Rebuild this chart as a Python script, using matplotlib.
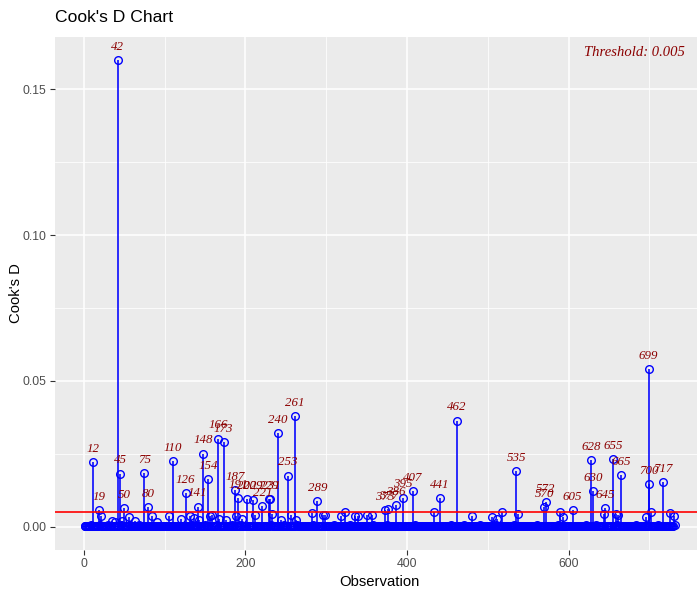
import matplotlib
matplotlib.use("Agg")
import matplotlib.pyplot as plt
import numpy as np

# ---------------- data ----------------
threshold = 0.005

# baseline Cook's D for every observation, in units of 1e-4
baseline_d_1e4 = [
    3,2,1,4,2,1,3,2,5,1,2,3,1,2,4,3,1,2,3,6,2,1,3,2,4,
    1,2,3,1,5,2,1,3,2,4,1,2,3,2,1,4,2,3,1,2,5,3,1,2,3,
    2,1,4,3,1,2,5,2,1,3,2,1,4,2,3,1,2,3,7,2,1,3,2,4,1,
    3,2,1,2,4,1,3,2,1,5,2,3,1,2,4,2,1,3,2,1,3,4,2,1,2,
    1,3,2,4,1,2,3,1,2,6,3,1,2,4,2,1,3,2,1,2,4,3,1,2,3,
    2,4,1,3,2,1,2,5,3,1,2,3,1,4,2,1,3,2,4,1,2,3,2,1,5,
    3,1,2,4,2,1,3,2,1,4,3,2,1,2,5,1,3,2,4,1,2,3,1,2,4,
    1,2,3,2,4,1,2,5,3,1,2,1,3,4,2,1,2,3,1,6,2,3,1,2,4,
    2,3,1,4,2,1,3,2,5,1,2,3,4,1,2,3,1,2,4,2,1,3,2,1,3,
    4,1,2,3,1,2,5,2,1,3,2,4,1,2,3,1,4,2,1,3,2,1,5,2,3,
    1,2,4,3,1,2,3,1,2,4,2,1,3,5,2,1,2,3,1,4,2,3,1,2,1,
    3,2,1,4,2,3,1,2,5,1,3,2,1,2,4,3,1,2,3,1,2,4,1,3,2,
    2,1,3,2,4,1,2,3,1,5,2,1,3,2,4,1,2,3,2,1,3,4,2,1,2,
    1,3,2,5,1,2,4,2,1,3,2,1,4,3,1,2,3,1,2,4,2,3,1,2,3,
    2,4,1,2,3,1,2,5,3,1,2,4,1,3,2,1,2,3,4,1,2,1,3,2,5,
    3,1,2,3,1,4,2,1,3,2,5,1,2,3,1,2,4,2,1,3,2,1,4,3,1,
    2,3,1,2,4,1,3,2,1,5,2,3,1,2,4,1,2,3,2,1,3,2,4,1,2,
    1,2,3,4,1,2,3,1,5,2,1,3,2,4,1,2,3,2,1,4,3,1,2,3,1,
    3,2,1,2,5,1,3,2,4,1,2,3,1,2,4,2,1,3,2,1,5,2,3,1,2,
    2,1,4,3,1,2,3,2,1,4,2,1,3,2,5,1,2,3,1,4,2,3,1,2,3,
    1,3,2,1,4,2,3,1,2,5,3,1,2,4,1,2,3,2,1,3,4,1,2,3,2,
    4,2,1,3,2,1,5,2,3,1,2,4,1,3,2,1,2,3,4,1,2,3,1,2,1,
    2,1,3,2,4,1,2,3,1,2,5,3,1,2,4,2,1,3,2,1,3,2,4,1,2,
    3,2,1,4,2,3,1,2,1,3,2,5,1,2,3,4,1,2,3,1,2,4,2,1,3,
    1,2,3,1,5,2,1,3,4,2,1,2,3,1,2,4,3,1,2,3,1,5,2,3,1,
    2,4,1,2,3,1,2,3,5,1,2,4,1,3,2,1,2,3,1,4,2,1,3,2,4,
    3,1,2,4,1,3,2,1,2,5,3,1,2,3,1,4,2,1,3,2,4,1,2,3,1,
    1,2,3,2,4,1,2,5,1,3,2,1,3,4,2,1,3,2,1,2,4,3,1,2,3,
    2,3,1,4,2,1,3,2,1,5,2,3,1,2,4,1,2,3,2,1,3,4,2,1,2,
    3,1,2,4,2,6,
]

# observations with visibly larger Cook's D
spike_obs = [12, 19, 42, 45, 50, 75, 80, 110, 126, 141, 148, 154, 166, 173,
             187, 191, 202, 209, 221, 229, 231, 240, 253, 261, 289, 373, 377,
             386, 395, 407, 441, 462, 535, 570, 572, 605, 628, 630, 645, 655,
             665, 699, 700, 717]
spike_d = [0.0222, 0.0058, 0.1600, 0.0182, 0.0065, 0.0183, 0.0066, 0.0226,
           0.0116, 0.0069, 0.0251, 0.0164, 0.0302, 0.0290, 0.0126, 0.0098,
           0.0095, 0.0093, 0.0072, 0.0095, 0.0094, 0.0321, 0.0175, 0.0380,
           0.0088, 0.0058, 0.0061, 0.0074, 0.0100, 0.0123, 0.0098, 0.0364,
           0.0190, 0.0066, 0.0083, 0.0056, 0.0228, 0.0121, 0.0065, 0.0233,
           0.0176, 0.0541, 0.0147, 0.0153]

# moderate values below the threshold
mid_obs = [22, 35, 39, 47, 56, 63, 85, 91, 105, 120, 131, 136, 143, 156, 159,
           168, 176, 188, 196, 212, 233, 244, 256, 263, 283, 296, 299, 318,
           323, 336, 339, 351, 357, 434, 480, 505, 511, 518, 537, 589, 593,
           644, 659, 661, 696, 702, 725, 730]
mid_d = [0.0038, 0.0018, 0.0017, 0.0021, 0.0033, 0.0021, 0.0035, 0.0015,
         0.0035, 0.0028, 0.0035, 0.0030, 0.0024, 0.0038, 0.0040, 0.0026,
         0.0022, 0.0037, 0.0025, 0.0040, 0.0043, 0.0024, 0.0041, 0.0022,
         0.0047, 0.0041, 0.0041, 0.0038, 0.0049, 0.0038, 0.0038, 0.0040,
         0.0040, 0.0049, 0.0035, 0.0033, 0.0026, 0.0049, 0.0042, 0.0049,
         0.0033, 0.0042, 0.0044, 0.0040, 0.0033, 0.0049, 0.0048, 0.0038]

# ---------------- assemble ----------------
cooks_d = np.array(baseline_d_1e4, dtype=float) * 1e-4
for o, v in zip(mid_obs, mid_d):
    cooks_d[o - 1] = v
for o, v in zip(spike_obs, spike_d):
    cooks_d[o - 1] = v
n = len(cooks_d)
obs = np.arange(1, n + 1)

# ---------------- plot ----------------
W, H = 697, 591
fig = plt.figure(figsize=(W / 100, H / 100), dpi=100)
L, R, T, B = 55, 704, 37, 550
ax = fig.add_axes([L / W, (H - B) / H, (R - L) / W, (B - T) / H])
ax.set_facecolor("#EBEBEB")
for s in ax.spines.values():
    s.set_visible(False)

xr = n - 1
ax.set_xlim(1 - 0.05 * xr, n + 0.05 * xr)
ymax = cooks_d.max()
ax.set_ylim(-0.05 * ymax, ymax * 1.05)

ax.set_xticks([0, 200, 400, 600])
ax.set_xticks([100, 300, 500, 700], minor=True)
ax.set_yticks([0.0, 0.05, 0.10, 0.15])
ax.set_yticks([0.025, 0.075, 0.125], minor=True)
ax.set_yticklabels(["0.00", "0.05", "0.10", "0.15"])
ax.grid(which="major", color="white", lw=1.1)
ax.grid(which="minor", color="white", lw=0.55)
ax.set_axisbelow(True)
ax.tick_params(which="major", length=3.5, width=0.8, color="#333333",
               labelcolor="#4D4D4D", labelsize=8.8, pad=2.5)
ax.tick_params(which="minor", length=0)

fam = ["Liberation Sans", "DejaVu Sans"]
for lab in ax.get_xticklabels() + ax.get_yticklabels():
    lab.set_family(fam)

ax.vlines(obs, 0, cooks_d, color="blue", lw=1.15, zorder=3)
ax.plot(obs, cooks_d, "o", mfc="none", mec="blue", ms=5.5, mew=1.0, zorder=4)
ax.axhline(threshold, color="red", lw=1.2, zorder=5)

for o, v in zip(obs, cooks_d):
    if v > threshold:
        ax.annotate(str(o), (o, v), xytext=(0, 9.5), textcoords="offset points",
                    ha="center", va="center", color="#8B0000",
                    family=["Liberation Serif", "DejaVu Serif"], style="italic",
                    fontsize=9.3, zorder=6)

ax.text(744, 0.1628, f"Threshold: {threshold}", ha="right", va="center",
        color="#8B0000", family=["Liberation Serif", "DejaVu Serif"],
        style="italic", fontsize=10.5)

ax.set_xlabel("Observation", family=fam, fontsize=10.7, labelpad=3)
ax.set_ylabel("Cook's D", family=fam, fontsize=10.7, labelpad=0)
fig.text(L / W, 1 - 17 / H, "Cook's D Chart", family=fam, fontsize=12.6,
         ha="left", va="center")

fig.savefig("out.png", dpi=100)
